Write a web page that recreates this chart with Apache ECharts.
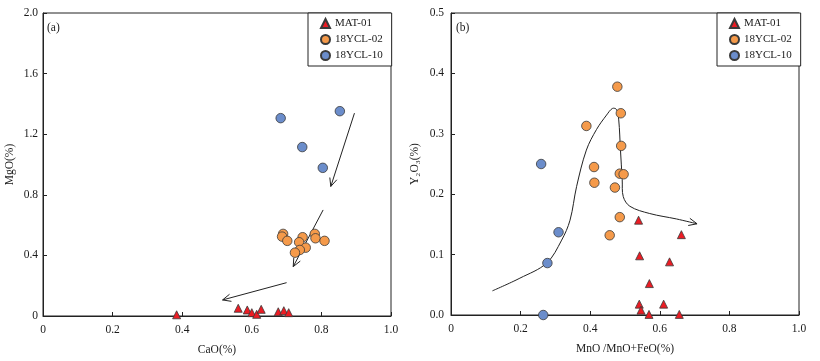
<!DOCTYPE html>
<html>
<head>
<meta charset="utf-8">
<script src="https://cdn.jsdelivr.net/npm/echarts@6/dist/echarts.min.js"></script>
<style>html,body{margin:0;padding:0;background:#fff;}#c{width:820px;height:361px;}</style>
</head>
<body>
<div id="c"></div>
<script>
// ---- Panel (a): CaO(%) vs MgO(%) ----
const matA = [[0.384,0.008],[0.561,0.051],[0.587,0.040],[0.600,0.022],[0.614,0.011],[0.627,0.044],[0.676,0.028],[0.692,0.035],[0.706,0.022]];
const ycl02A = [[0.690,0.542],[0.687,0.524],[0.702,0.496],[0.746,0.520],[0.736,0.487],[0.781,0.542],[0.783,0.513],[0.809,0.496],[0.755,0.451],[0.738,0.436],[0.724,0.418]];
const ycl10A = [[0.683,1.306],[0.853,1.352],[0.745,1.115],[0.804,0.978]];
const arrowsA = [[0.895,1.339,0.827,0.855],[0.805,0.700,0.719,0.326],[0.700,0.220,0.516,0.106]];
const xTicksA = ['0','0.2','0.4','0.6','0.8','1.0'];
const yTicksA = ['0','0.4','0.8','1.2','1.6','2.0'];

// ---- Panel (b): MnO/MnO+FeO(%) vs Y2O3(%) ----
const matB = [[0.539,0.157],[0.662,0.133],[0.542,0.098],[0.628,0.088],[0.570,0.052],[0.541,0.018],[0.546,0.008],[0.569,0.001],[0.611,0.018],[0.656,0.001]];
const ycl02B = [[0.478,0.378],[0.488,0.334],[0.389,0.313],[0.489,0.280],[0.411,0.245],[0.485,0.234],[0.496,0.233],[0.412,0.219],[0.471,0.211],[0.485,0.162],[0.456,0.132]];
const ycl10B = [[0.259,0.250],[0.309,0.137],[0.277,0.086],[0.265,0.000]];
const curveX = [0.119,0.198,0.275,0.318,0.342,0.361,0.389,0.418,0.447,0.464,0.476,0.482,0.487,0.492,0.495,0.514,0.571,0.648,0.707];
const curveY = [0.040,0.061,0.086,0.124,0.157,0.213,0.273,0.307,0.331,0.342,0.340,0.323,0.273,0.224,0.196,0.180,0.168,0.159,0.151];
const xTicksB = ['0','0.2','0.4','0.6','0.8','1.0'];
const yTicksB = ['0.0','0.1','0.2','0.3','0.4','0.5'];

const seriesNames = ['MAT-01','18YCL-02','18YCL-10'];

const FONT = 'Liberation Serif';
const TXT = '#1a1a1a';
const RED = '#ec1c24', ORANGE = '#f59a4a', BLUE = '#6b8dcb', EDGE = '#3a3a3a';

function tickFmt(arr, step){ return function(v){ const i = Math.round(v/step); return arr[i] !== undefined ? arr[i] : ''; }; }

function arrowHead(p1, p2){
  const ang = Math.atan2(p2[1]-p1[1], p2[0]-p1[0]);
  const L = 9, a = 0.42;
  return [[p2[0]-L*Math.cos(ang-a), p2[1]-L*Math.sin(ang-a)], p2, [p2[0]-L*Math.cos(ang+a), p2[1]-L*Math.sin(ang+a)]];
}
function renderArrow(params, api){
  const p1 = api.coord([api.value(0), api.value(1)]);
  const p2 = api.coord([api.value(2), api.value(3)]);
  return {type:'group', children:[
    {type:'line', shape:{x1:p1[0],y1:p1[1],x2:p2[0],y2:p2[1]}, style:{stroke:'#222', lineWidth:1}},
    {type:'polyline', shape:{points:arrowHead(p1,p2)}, style:{stroke:'#222', lineWidth:1, fill:null}}
  ]};
}
function renderCurve(params, api){
  const pts = curveX.map((x,i)=>api.coord([x, curveY[i]]));
  const n = pts.length;
  return {type:'group', children:[
    {type:'polyline', shape:{points:pts, smooth:0.35}, style:{stroke:'#222', lineWidth:1, fill:null}},
    {type:'polyline', shape:{points:arrowHead(pts[n-2], pts[n-1])}, style:{stroke:'#222', lineWidth:1, fill:null}}
  ]};
}

function axisCommon(){
  return {
    axisLine:{show:true, lineStyle:{color:'#222', width:1}},
    axisTick:{show:true, inside:true, length:4, lineStyle:{color:'#222'}},
    splitLine:{show:false},
    axisLabel:{color:TXT, fontFamily:FONT, fontSize:11.5},
    nameTextStyle:{color:TXT, fontFamily:FONT, fontSize:11.5},
    nameLocation:'middle'
  };
}

function scatter(name, data, xi, color, symbol, size){
  return {type:'scatter', name:name, xAxisIndex:xi, yAxisIndex:xi, data:data, symbol:symbol, symbolSize:size,
    itemStyle:{color:color, borderColor:EDGE, borderWidth:0.8, opacity:1}, emphasis:{disabled:true}, z:3};
}

function legendAt(left){
  return {data:seriesNames, orient:'vertical', left:left, top:13, itemWidth:9, itemHeight:9, itemGap:5,
    padding:[5,9,5,12], borderColor:'#222', borderWidth:1, backgroundColor:'#fff', borderRadius:0,
    selectedMode:false, textStyle:{color:TXT, fontFamily:FONT, fontSize:11}, z:10};
}

const chart = echarts.init(document.getElementById('c'), null, {renderer:'canvas'});
chart.setOption({
  animation:false,
  backgroundColor:'#fff',
  title:[
    {text:'(a)', left:42, top:17, textStyle:{fontFamily:FONT, fontSize:11.5, fontWeight:'normal', color:TXT}},
    {text:'(b)', left:451, top:17, textStyle:{fontFamily:FONT, fontSize:11.5, fontWeight:'normal', color:TXT}}
  ],
  legend:[legendAt(308), legendAt(717)],
  grid:[
    {left:43, right:429, top:13, bottom:45, show:true, borderColor:'#222', borderWidth:1, backgroundColor:'#fff'},
    {left:451, right:21, top:13, bottom:46, show:true, borderColor:'#222', borderWidth:1, backgroundColor:'#fff'}
  ],
  xAxis:[
    Object.assign(axisCommon(), {type:'value', gridIndex:0, min:0, max:1, interval:0.2, name:'CaO(%)', nameGap:28,
      axisLabel:{color:TXT, fontFamily:FONT, fontSize:11.5, margin:8, formatter:tickFmt(xTicksA,0.2)}}),
    Object.assign(axisCommon(), {type:'value', gridIndex:1, min:0, max:1, interval:0.2, name:'MnO /MnO+FeO(%)', nameGap:28,
      axisLabel:{color:TXT, fontFamily:FONT, fontSize:11.5, margin:8, formatter:tickFmt(xTicksB,0.2)}})
  ],
  yAxis:[
    Object.assign(axisCommon(), {type:'value', gridIndex:0, min:0, max:2, interval:0.4, name:'MgO(%)', nameGap:27,
      axisLabel:{color:TXT, fontFamily:FONT, fontSize:11.5, margin:5, formatter:tickFmt(yTicksA,0.4)}}),
    Object.assign(axisCommon(), {type:'value', gridIndex:1, min:0, max:0.5, interval:0.1, name:'Y\u2082O\u2083(%)', nameGap:30,
      axisLabel:{color:TXT, fontFamily:FONT, fontSize:11.5, margin:7, formatter:tickFmt(yTicksB,0.1)}})
  ],
  series:[
    {type:'custom', name:'arrowsA', xAxisIndex:0, yAxisIndex:0, data:arrowsA, renderItem:renderArrow, encode:{x:[0,2], y:[1,3]}, silent:true, z:2},
    {type:'custom', name:'curveB', xAxisIndex:1, yAxisIndex:1, data:[[curveX[0], curveY[0]]], renderItem:renderCurve, silent:true, z:2},
    scatter('MAT-01', matA, 0, RED, 'triangle', 8),
    scatter('18YCL-02', ycl02A, 0, ORANGE, 'circle', 9.5),
    scatter('18YCL-10', ycl10A, 0, BLUE, 'circle', 9.5),
    scatter('MAT-01', matB, 1, RED, 'triangle', 8),
    scatter('18YCL-02', ycl02B, 1, ORANGE, 'circle', 9.5),
    scatter('18YCL-10', ycl10B, 1, BLUE, 'circle', 9.5)
  ]
});
</script>
</body>
</html>
